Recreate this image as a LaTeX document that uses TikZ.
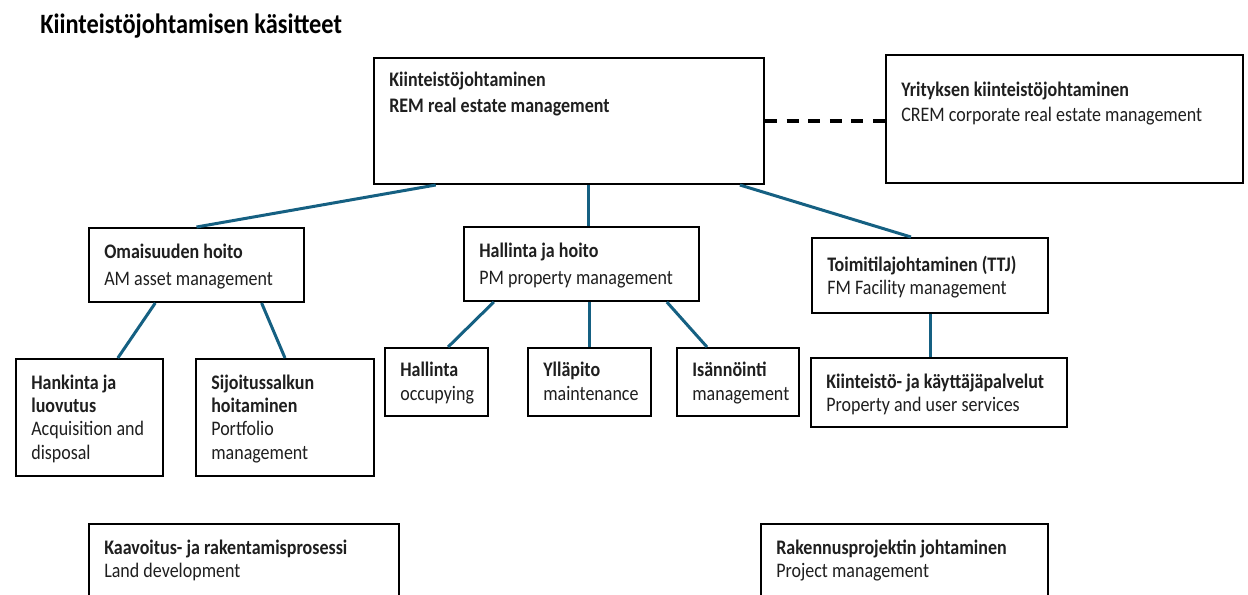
\documentclass[tikz,border=0pt]{standalone}
\usepackage{fontspec}
\setmainfont{Carlito}[FakeStretch=0.87]
\usepackage{xcolor}
\usetikzlibrary{calc}
\definecolor{linkblue}{HTML}{156082}
\tikzset{
    concept/.style={
        rectangle, draw=black, line width=1.5pt, fill=white,
        anchor=north west, align=left, text=black!88,
        inner xsep=1pt, inner ysep=9pt, text height=13.5pt,
        font={\fontsize{15.5}{17.5}\selectfont},
        execute at begin node={\leftskip=10.5pt\spaceskip=0.2em plus 0.05em\relax},
    },
    heading/.style={
        anchor=base west, inner sep=0pt,
        font={\bfseries\fontsize{21}{25}\selectfont},
    },
    link/.style={line width=2.25pt, draw=linkblue},
    peer/.style={line width=2.5pt, draw=black, dash pattern=on 9pt off 7.2pt},
}

\begin{document}
\begin{tikzpicture}[x=0.75pt, y=-0.75pt]
    \useasboundingbox (0,0) rectangle (1248,594);
    \clip (0,0) rectangle (1248,594);

    \node[heading] (title) at (40,33) {Kiinteistöjohtamisen käsitteet};

    \node[concept, text width=290.5pt, text height=12.5pt, text depth=64pt] (rem) at (373,57)
        {\textbf{Kiinteistöjohtaminen}\\[1.5pt]\textbf{REM real estate management}};
    \node[concept, text width=265.75pt, text height=21.75pt, text depth=56.25pt] (crem) at (885,54)
        {\textbf{Yrityksen kiinteistöjohtaminen}\\[1.5pt]CREM corporate real estate management};

    \node[concept, text width=159.25pt, text depth=24pt] (am) at (88,227)
        {\textbf{Omaisuuden hoito}\\[3pt]AM asset management};
    \node[concept, text width=174.25pt, text depth=24pt] (pm) at (463,226)
        {\textbf{Hallinta ja hoito}\\[3pt]PM property management};
    \node[concept, text width=175pt, text height=15.75pt, text depth=22.5pt] (fm) at (811,237)
        {\textbf{Toimitilajohtaminen (TTJ)}\\FM Facility management};

    \node[concept, text width=108.25pt, text depth=56.25pt] (acq) at (15,358)
        {\textbf{Hankinta ja}\\\textbf{luovutus}\\Acquisition and\\disposal};
    \node[concept, text width=131.5pt, text depth=56.25pt] (port) at (195,358)
        {\textbf{Sijoitussalkun}\\\textbf{hoitaminen}\\Portfolio\\management};
    \node[concept, text width=75.25pt, text height=12.5pt, text depth=20.5pt] (occ) at (384,347)
        {\textbf{Hallinta}\\occupying};
    \node[concept, text width=90.25pt, text height=12.5pt, text depth=20.5pt] (maint) at (527,347)
        {\textbf{Ylläpito}\\maintenance};
    \node[concept, text width=89.5pt, text height=12.5pt, text depth=20.5pt] (isa) at (676,347)
        {\textbf{Isännöinti}\\management};
    \node[concept, text width=190pt, text depth=20.25pt] (serv) at (810,357)
        {\textbf{Kiinteistö- ja käyttäjäpalvelut}\\Property and user services};

    \node[concept, text width=230.5pt, text depth=43.5pt] (land) at (88,523)
        {\textbf{Kaavoitus- ja rakentamisprosessi}\\Land development};
    \node[concept, text width=213.25pt, text depth=43.5pt] (proj) at (760,523)
        {\textbf{Rakennusprojektin johtaminen}\\Project management};

    \coordinate (pmtop) at ($(pm.north west)!0.53!(pm.north east)$);

    \draw[peer] (rem.east) -- (rem.east -| crem.west);
    \draw[link] ($(rem.south west)!0.16!(rem.south east)$) -- (am.north);
    \draw[link] (pmtop |- rem.south) -- (pmtop);
    \draw[link] ($(rem.south west)!0.936!(rem.south east)$) -- ($(fm.north west)!0.42!(fm.north east)$);
    \draw[link] ($(am.south west)!0.31!(am.south east)$) -- ($(acq.north west)!0.69!(acq.north east)$);
    \draw[link] ($(am.south west)!0.8!(am.south east)$) -- (port.north);
    \draw[link] ($(pm.south west)!0.13!(pm.south east)$) -- ($(occ.north west)!0.61!(occ.north east)$);
    \draw[link] (maint.north |- pm.south) -- (maint.north);
    \draw[link] ($(pm.south west)!0.86!(pm.south east)$) -- ($(isa.north west)!0.25!(isa.north east)$);
    \draw[link] (fm.south) -- (fm.south |- serv.north);
\end{tikzpicture}
\end{document}
